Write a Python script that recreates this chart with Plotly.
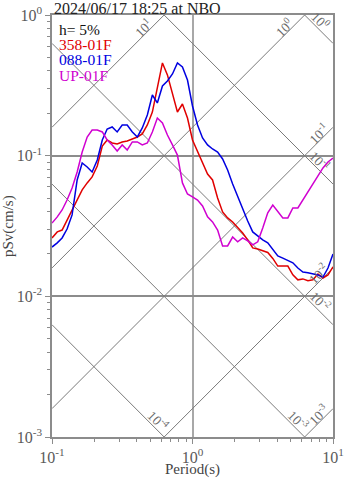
import math
import plotly.graph_objects as go

# Natural periods (s), shared by all three components
periods = [0.100, 0.109, 0.118, 0.128, 0.139, 0.151, 0.164, 0.178, 0.193, 0.210,
           0.228, 0.247, 0.268, 0.291, 0.316, 0.343, 0.373, 0.405, 0.439, 0.477,
           0.518, 0.562, 0.611, 0.663, 0.720, 0.781, 0.848, 0.921, 1.000, 1.086,
           1.179, 1.280, 1.389, 1.509, 1.638, 1.778, 1.931, 2.096, 2.276, 2.471,
           2.683, 2.913, 3.162, 3.433, 3.728, 4.047, 4.394, 4.771, 5.179, 5.623,
           6.105, 6.629, 7.197, 7.814, 8.483, 9.211, 10.00]

# Pseudo-velocity response (cm/s), h = 5%
sv_358 = [0.0260, 0.0287, 0.0296, 0.0349, 0.0411, 0.0484, 0.0571, 0.0640, 0.0706, 0.0845,
          0.1172, 0.1293, 0.1231, 0.1211, 0.1252, 0.1273, 0.1315, 0.1358, 0.1426, 0.1653,
          0.2040, 0.3080, 0.4560, 0.3750, 0.2700, 0.2044, 0.2330, 0.1853, 0.1293, 0.1080,
          0.0902, 0.0741, 0.0672, 0.0500, 0.0398, 0.0361, 0.0338, 0.0311, 0.0282, 0.0252,
          0.0221, 0.0217, 0.0210, 0.0205, 0.0186, 0.0164, 0.0164, 0.0164, 0.0142, 0.0131,
          0.0133, 0.0129, 0.0131, 0.0144, 0.0135, 0.0142, 0.0162]

sv_088 = [0.0224, 0.0240, 0.0260, 0.0301, 0.0379, 0.0672, 0.0887, 0.0831, 0.0766, 0.0932,
          0.1293, 0.1548, 0.1600, 0.1474, 0.1653, 0.1650, 0.1474, 0.1358, 0.1574, 0.1947,
          0.2700, 0.2370, 0.3130, 0.3400, 0.3810, 0.4560, 0.4270, 0.3450, 0.2255, 0.1653,
          0.1336, 0.1192, 0.1116, 0.1062, 0.0947, 0.0791, 0.0629, 0.0509, 0.0425, 0.0343,
          0.0287, 0.0269, 0.0252, 0.0240, 0.0214, 0.0194, 0.0187, 0.0181, 0.0173, 0.0159,
          0.0149, 0.0147, 0.0144, 0.0142, 0.0137, 0.0159, 0.0200]

sv_up = [0.0332, 0.0367, 0.0411, 0.0484, 0.0589, 0.0766, 0.1062, 0.1358, 0.1523, 0.1523,
         0.1474, 0.1293, 0.1192, 0.1080, 0.1192, 0.1098, 0.1252, 0.1252, 0.1192, 0.1231,
         0.1474, 0.1853, 0.1708, 0.1403, 0.1192, 0.1010, 0.0640, 0.0534, 0.0509, 0.0484,
         0.0439, 0.0367, 0.0338, 0.0296, 0.0228, 0.0228, 0.0264, 0.0244, 0.0260, 0.0248,
         0.0232, 0.0244, 0.0306, 0.0392, 0.0446, 0.0398, 0.0361, 0.0361, 0.0425, 0.0425,
         0.0484, 0.0552, 0.0640, 0.0729, 0.0818, 0.0902, 0.0963]

components = ["358-01F", "088-01F", "UP-01F"]
colors = ["#e00000", "#0000e0", "#d000d0"]

# Tripartite guide lines: displacement (cm) and acceleration (cm/s^2)
disp_levels = [1e0, 1e-1, 1e-2, 1e-3, 1e-4]
accel_levels = [1e1, 1e0, 1e-1, 1e-2, 1e-3]
level_text = {1: "10<sup>1</sup>", 0: "10<sup>0</sup>", -1: "10<sup>-1</sup>",
              -2: "10<sup>-2</sup>", -3: "10<sup>-3</sup>", -4: "10<sup>-4</sup>"}

T_MIN, T_MAX = 0.1, 10.0
SV_MIN, SV_MAX = 1e-3, 1.0
PX_PER_DECADE = 140.0

SERIF = "Liberation Serif, Times New Roman, serif"
FRAME = "#8c8c8c"
DIAG = "#7a7a7a"
TICKTXT = "#5a5a5a"
GUIDE_FONT = dict(family=SERIF, size=13.5, color="#6a6a6a")

fig = go.Figure()
annotations = []
TWO_PI = 2 * math.pi

# displacement lines: Sv = 2*pi*D / T (falling)
for d in disp_levels:
    t_lo = max(T_MIN, TWO_PI * d / SV_MAX)
    t_hi = min(T_MAX, TWO_PI * d / SV_MIN)
    if t_lo >= t_hi:
        continue
    fig.add_trace(go.Scatter(x=[t_lo, t_hi], y=[TWO_PI * d / t_lo, TWO_PI * d / t_hi],
                             mode="lines", line=dict(color=DIAG, width=1),
                             hoverinfo="skip", showlegend=False))
    end_right = t_hi >= T_MAX * 0.999
    s = 25 if end_right else 16
    lt = math.log10(t_hi) - s / (math.sqrt(2) * PX_PER_DECADE)
    lsv = math.log10(TWO_PI * d) - lt
    annotations.append(dict(x=lt, y=lsv, xref="x", yref="y", showarrow=False,
                            text=level_text[round(math.log10(d))], textangle=45,
                            xshift=5, yshift=5, font=GUIDE_FONT))

# acceleration lines: Sv = A * T / (2*pi) (rising)
for a in accel_levels:
    t_lo = max(T_MIN, SV_MIN * TWO_PI / a)
    t_hi = min(T_MAX, SV_MAX * TWO_PI / a)
    if t_lo >= t_hi:
        continue
    fig.add_trace(go.Scatter(x=[t_lo, t_hi], y=[a * t_lo / TWO_PI, a * t_hi / TWO_PI],
                             mode="lines", line=dict(color=DIAG, width=1),
                             hoverinfo="skip", showlegend=False))
    end_top = t_hi < T_MAX * 0.999
    s = 23 if end_top else 14
    lt = math.log10(t_hi) - s / (math.sqrt(2) * PX_PER_DECADE)
    lsv = math.log10(a / TWO_PI) + lt
    annotations.append(dict(x=lt, y=lsv, xref="x", yref="y", showarrow=False,
                            text=level_text[round(math.log10(a))], textangle=-45,
                            xshift=-4, yshift=4, font=GUIDE_FONT))

# response spectra
for name, sv, c in zip(components, [sv_358, sv_088, sv_up], colors):
    fig.add_trace(go.Scatter(x=periods, y=sv, mode="lines", name=name,
                             line=dict(color=c, width=1.5), showlegend=False))

# title and component labels
annotations.append(dict(x=0, y=1, xref="paper", yref="paper", xanchor="left",
                        yanchor="middle", xshift=0, yshift=7, showarrow=False,
                        text="2024/06/17 18:25 at NBO",
                        font=dict(family=SERIF, size=16, color="#222222")))
legend_rows = [("h= 5%", "#111111")] + list(zip(components, colors))
for i, (txt, c) in enumerate(legend_rows):
    annotations.append(dict(x=0, y=1, xref="paper", yref="paper", xanchor="left",
                            yanchor="middle", xshift=5, yshift=-14 - 15.4 * i,
                            showarrow=False, text=txt,
                            font=dict(family=SERIF, size=15.5, color=c)))

# axis titles
annotations.append(dict(x=0.5, y=0, xref="paper", yref="paper", xanchor="center",
                        yanchor="middle", yshift=-32, showarrow=False, text="Period(s)",
                        font=dict(family=SERIF, size=15, color="#444444")))
annotations.append(dict(x=0, y=0.5, xref="paper", yref="paper", xanchor="center",
                        yanchor="middle", xshift=-44, showarrow=False, text="pSv(cm/s)",
                        textangle=-90, font=dict(family=SERIF, size=15, color="#444444")))

x_major = [0.1, 1, 10]
x_minor = [m * 10 ** e for e in (-1, 0) for m in range(2, 10)]
y_major = [1e-3, 1e-2, 1e-1, 1]
y_minor = [m * 10 ** e for e in (-3, -2, -1) for m in range(2, 10)]

axis_common = dict(type="log", showline=True, mirror=True, linecolor=FRAME, linewidth=1.5,
                   ticks="outside", ticklen=5, tickcolor=FRAME, tickwidth=1,
                   showgrid=True, gridwidth=1.5, zeroline=False, automargin=False,
                   tickfont=dict(family=SERIF, size=16, color=TICKTXT),
                   tickmode="array")

fig.update_layout(
    width=347, height=478,
    margin=dict(l=52, r=14, t=15, b=41),
    paper_bgcolor="white", plot_bgcolor="white",
    xaxis=dict(range=[-1, 1], tickvals=x_major, gridcolor="#a8a8a8",
               ticktext=["10<sup>-1</sup>", "10<sup>0</sup>", "10<sup>1</sup>"],
               minor=dict(tickmode="array", tickvals=x_minor, ticks="outside",
                          ticklen=3, tickcolor=FRAME, showgrid=False),
               **axis_common),
    yaxis=dict(range=[-3, 0], tickvals=y_major, gridcolor="#8c8c8c",
               ticktext=["10<sup>-3</sup>", "10<sup>-2</sup>", "10<sup>-1</sup>", "10<sup>0</sup>"],
               minor=dict(tickmode="array", tickvals=y_minor, ticks="outside",
                          ticklen=3, tickcolor=FRAME, showgrid=False),
               **axis_common),
    annotations=annotations,
    showlegend=False,
)

fig.write_html("out.html")
